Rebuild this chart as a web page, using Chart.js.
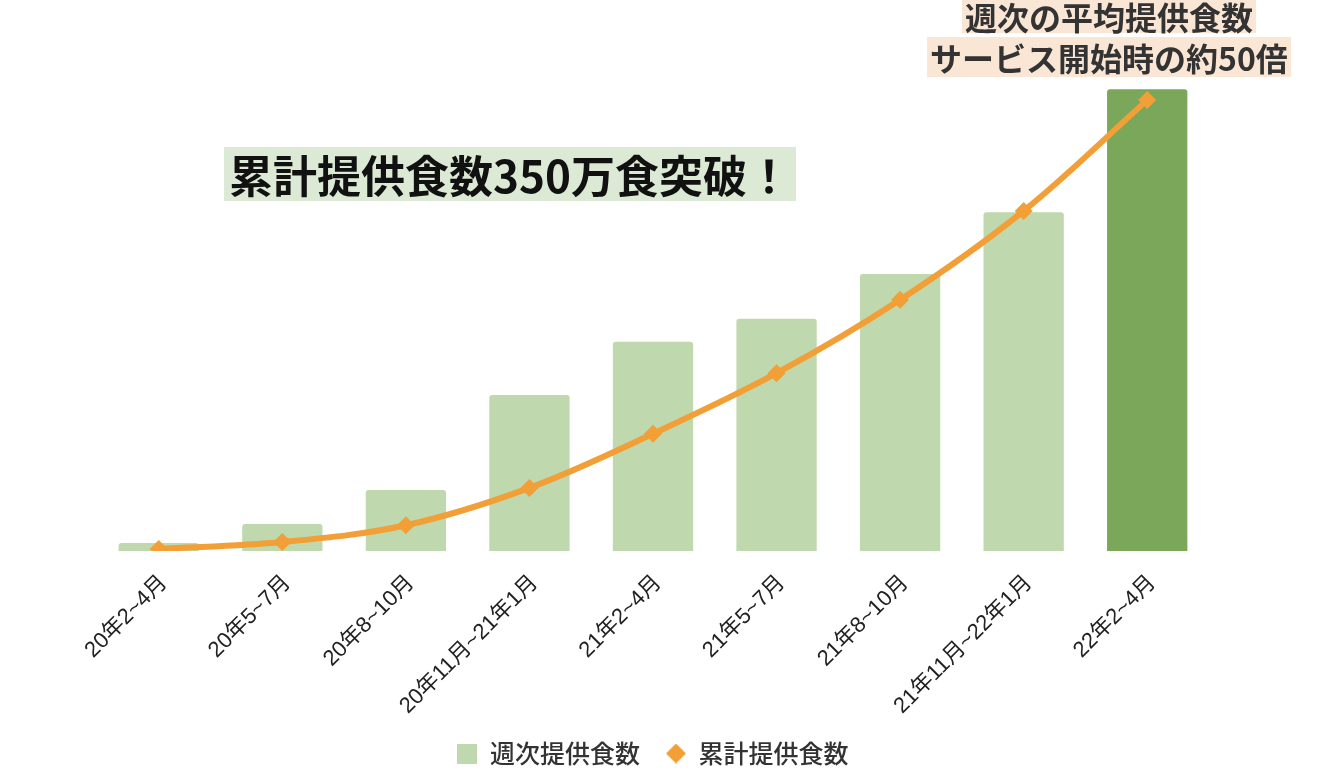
<!DOCTYPE html>
<html>
<head>
<meta charset="utf-8">
<script src="https://cdn.jsdelivr.net/npm/chart.js@4"></script>
<style>
  html, body { margin: 0; padding: 0; background: #fff; }
  #wrap { position: relative; width: 1320px; height: 782px; }
  .note { position: absolute; font-family: 'Noto Sans CJK JP', sans-serif; font-weight: bold; white-space: nowrap; }
  #note1 { left: 224px; top: 147px; height: 54px; line-height: 54px; padding: 0 5px; font-size: 44px; color: #111; background: #dce9d5; }
  .note2 { font-size: 32px; color: #333; background: #fae6d4; }
  #note2a { left: 962px; top: 0px; height: 33px; line-height: 33px; padding: 0 3px; }
  #note2b { left: 927px; top: 37px; height: 40px; line-height: 40px; padding: 0 3px; }
</style>
</head>
<body>
<div id="wrap">
  <canvas id="chart" width="1320" height="782"></canvas>
  <div class="note" id="note1">累計提供食数350万食突破！</div>
  <div class="note note2" id="note2a">週次の平均提供食数</div>
  <div class="note note2" id="note2b">サービス開始時の約50倍</div>
</div>
<script>
const FONT = "'Noto Sans CJK JP', 'Noto Sans', sans-serif";
const TICK_FONT = "'Liberation Sans', 'Noto Sans CJK JP', sans-serif";

// 期間ラベル
const periods = ['20年2~4月', '20年5~7月', '20年8~10月', '20年11月~21年1月', '21年2~4月',
  '21年5~7月', '21年8~10月', '21年11月~22年1月', '22年2~4月'];
// 週次提供食数（食/週, 推定）
const weeklyMeals = [1150, 3850, 8700, 22300, 29900, 33200, 39600, 48400, 66000];
// 累計提供食数（万食, 推定）
const cumulativeMeals = [1.6, 7, 20, 49, 91, 138, 195, 264, 350];

const barColors = periods.map((_, i) => i === periods.length - 1 ? '#7aa75a' : '#bfd8ad');

// legend symbols, same 20px size as the reference
function legendIcon(shape, color) {
  const c = document.createElement('canvas');
  c.width = 20;
  c.height = 20;
  const g = c.getContext('2d');
  g.fillStyle = color;
  if (shape === 'diamond') {
    g.beginPath();
    g.moveTo(10, 0);
    g.lineTo(20, 10);
    g.lineTo(10, 20);
    g.lineTo(0, 10);
    g.closePath();
    g.fill();
  } else {
    g.fillRect(0, 0, 20, 20);
  }
  return c;
}
const squareIcon = legendIcon('square', '#bfd8ad');
const diamondIcon = legendIcon('diamond', '#f19f36');

new Chart(document.getElementById('chart'), {
  data: {
    labels: periods,
    datasets: [
      {
        type: 'line',
        label: '累計提供食数',
        data: cumulativeMeals,
        yAxisID: 'y1',
        borderColor: '#f19f36',
        backgroundColor: '#f19f36',
        borderWidth: 6,
        tension: 0.35,
        pointStyle: 'rectRot',
        pointRadius: 9,
        pointBorderWidth: 0,
        order: 0
      },
      {
        type: 'bar',
        label: '週次提供食数',
        data: weeklyMeals,
        yAxisID: 'y',
        backgroundColor: barColors,
        borderRadius: 3,
        barPercentage: 0.65,
        categoryPercentage: 1,
        order: 1
      }
    ]
  },
  options: {
    responsive: false,
    devicePixelRatio: 1,
    animation: false,
    layout: { padding: { left: 97, right: 111, top: 50, bottom: 6 } },
    plugins: {
      tooltip: { enabled: false },
      legend: {
        position: 'bottom',
        reverse: true,
        labels: {
          usePointStyle: true,
          boxWidth: 20,
          boxHeight: 20,
          padding: 26,
          color: '#333',
          font: { family: FONT, size: 25, weight: '500' },
          generateLabels(chart) {
            const items = Chart.defaults.plugins.legend.labels.generateLabels(chart);
            items.forEach(item => {
              item.pointStyle = item.datasetIndex === 1 ? squareIcon : diamondIcon;
              item.lineWidth = 0;
            });
            return items;
          }
        }
      }
    },
    scales: {
      x: {
        offset: true,
        grid: { display: false },
        border: { display: false },
        ticks: {
          color: '#222',
          font: { family: TICK_FONT, size: 22 },
          minRotation: 45,
          maxRotation: 45,
          padding: 11,
          labelOffset: 5
        },
        afterFit(scale) {
          scale.paddingLeft = 0;
          scale.paddingRight = 0;
          scale.height = 164;
        }
      },
      y: { display: false, min: 0, max: 71600 },
      y1: { display: false, min: 0, max: 388.9 }
    }
  }
});
</script>
</body>
</html>
